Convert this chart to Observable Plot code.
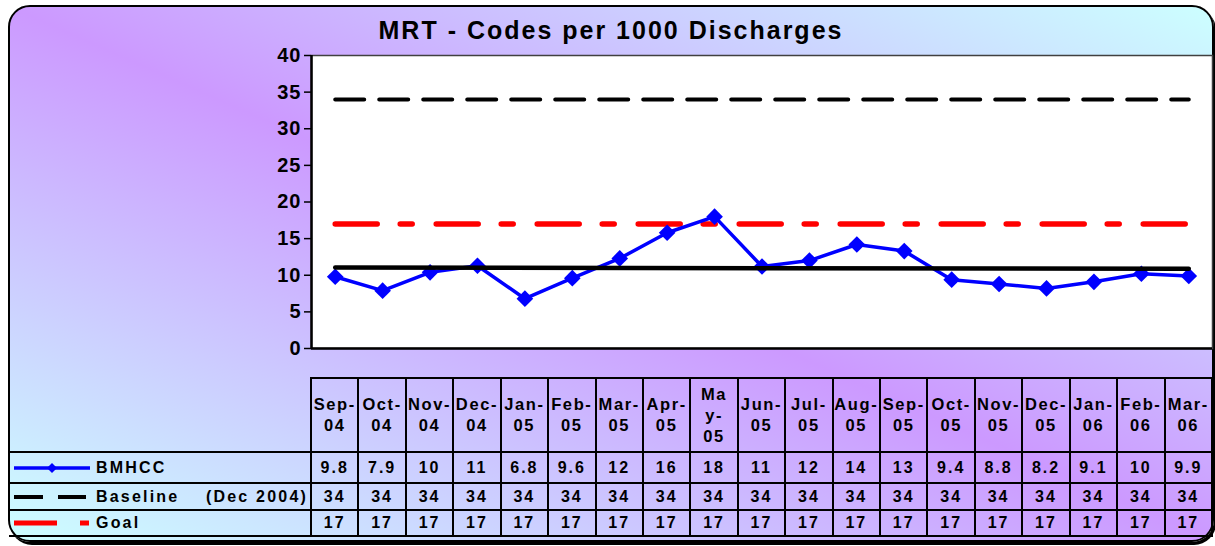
<!DOCTYPE html>
<html>
<head>
<meta charset="utf-8">
<script src="https://cdn.jsdelivr.net/npm/d3@7"></script>
<script src="https://cdn.jsdelivr.net/npm/@observablehq/plot@0.6"></script>
<style>
  body { margin:0; width:1215px; height:546px; overflow:hidden; background:#fff;
         font-family:"Liberation Sans", Arial, sans-serif; position:relative; }
  #card { position:absolute; left:8px; top:5px; width:1206px; height:537px; box-sizing:border-box;
          border:2.5px solid #000; border-radius:22px;
          background:linear-gradient(to top right, #ccffff 0%, #cc99ff 50%, #ccffff 100%);
          box-shadow:2px 3px 0 #000; }
  #title { position:absolute; top:16px; left:0; width:1222px; text-align:center;
           font-weight:bold; font-size:25px; letter-spacing:2px; color:#000; }
  #chart { position:absolute; left:0; top:0; }
  .cell { position:absolute; box-sizing:border-box; border:2px solid #000; display:flex;
          align-items:center; justify-content:center; font-weight:bold; font-size:16px;
          letter-spacing:2px; white-space:pre-line; text-align:center; color:#000; }
  .hdr { font-size:16.5px; line-height:21px; letter-spacing:1.6px; }
  .leg { position:absolute; box-sizing:border-box; border-top:2px solid #000; border-bottom:2px solid #000;
         display:flex; align-items:center; font-weight:bold; font-size:16px; letter-spacing:2.2px;
         white-space:pre; color:#000; }
  .leg svg { margin-left:5px; margin-right:4px; flex:none; }
</style>
</head>
<body>
<div id="card"></div>
<div id="title"></div>
<div id="chart"></div>
<div id="table"></div>
<script>
// ---- data ----
const titleText = "MRT - Codes per 1000 Discharges";
const months = ["Sep-04","Oct-04","Nov-04","Dec-04","Jan-05","Feb-05","Mar-05","Apr-05","May-05","Jun-05",
                "Jul-05","Aug-05","Sep-05","Oct-05","Nov-05","Dec-05","Jan-06","Feb-06","Mar-06"];
const headerLabels = ["Sep-\n04","Oct-\n04","Nov-\n04","Dec-\n04","Jan-\n05","Feb-\n05","Mar-\n05","Apr-\n05",
                      "Ma\ny-\n05","Jun-\n05","Jul-\n05","Aug-\n05","Sep-\n05","Oct-\n05","Nov-\n05","Dec-\n05",
                      "Jan-\n06","Feb-\n06","Mar-\n06"];
const bmhcc    = [9.8, 7.9, 10.4, 11.3, 6.8, 9.6, 12.3, 15.8, 18.0, 11.2, 12.0, 14.2, 13.3, 9.4, 8.8, 8.2, 9.1, 10.2, 9.9];
const baseline = [34, 34, 34, 34, 34, 34, 34, 34, 34, 34, 34, 34, 34, 34, 34, 34, 34, 34, 34];
const goal     = [17, 17, 17, 17, 17, 17, 17, 17, 17, 17, 17, 17, 17, 17, 17, 17, 17, 17, 17];
const yTicks   = [0, 5, 10, 15, 20, 25, 30, 35, 40];
const seriesNames = ["BMHCC", "Baseline    (Dec 2004)", "Goal"];

const rows = months.map((m, i) => ({i, month: m, bmhcc: bmhcc[i], baseline: baseline[i], goal: goal[i]}));

document.getElementById("title").textContent = titleText;

const chart = Plot.plot({
  width: 1215,
  height: 360,
  marginTop: 55,
  marginLeft: 311,
  marginRight: 3,
  marginBottom: 12,
  x: {domain: [-0.5, months.length - 0.5], axis: null},
  y: {domain: [0, 40]},
  style: {background: "transparent", fontFamily: "Liberation Sans, Arial, sans-serif",
          fontSize: "20px", fontWeight: "bold", color: "#000", overflow: "visible", letterSpacing: "1px"},
  marks: [
    Plot.frame({fill: "white", stroke: "#404040", strokeWidth: 1.5}),
    Plot.axisY({ticks: yTicks, tickSize: 7, tickPadding: 3, label: null, strokeWidth: 1.5, tickFormat: d => d}),
    Plot.lineY(rows, {x: "i", y: "baseline", stroke: "#000", strokeWidth: 4, strokeDasharray: "29,15"}),
    Plot.lineY(rows, {x: "i", y: "goal", stroke: "#ff0000", strokeWidth: 5.5, strokeDasharray: "42,23,12,24"}),
    Plot.lineY(rows, {x: "i", y: "bmhcc", stroke: "#0000ff", strokeWidth: 3.5}),
    Plot.dot(rows, {x: "i", y: "bmhcc", symbol: "diamond2", r: 7.5, fill: "#0000ff", stroke: "none"}),
    Plot.linearRegressionY(rows, {x: "i", y: "bmhcc", stroke: "#000", strokeWidth: 4.5, ci: 0}),
    Plot.ruleX([-0.5], {stroke: "#000", strokeWidth: 2.5}),
    Plot.ruleY([0], {stroke: "#000", strokeWidth: 2.5})
  ]
});
document.getElementById("chart").appendChild(chart);

// ---- data table aligned with the chart's x scale ----
const xs = chart.scale("x");
const table = document.getElementById("table");
const rowTops = [378, 452, 483, 510, 536];
const fmt = d3.format(".2");
const seriesVals = [bmhcc, baseline, goal];

function addCell(cls, left, top, w, h, text) {
  const d = document.createElement("div");
  d.className = cls;
  Object.assign(d.style, {left: left + "px", top: top + "px", width: w + "px", height: h + "px"});
  d.textContent = text;
  table.appendChild(d);
  return d;
}

months.forEach((m, i) => {
  const x0 = xs.apply(i - 0.5), x1 = xs.apply(i + 0.5);
  addCell("cell hdr", x0 - 1, rowTops[0] - 1, x1 - x0 + 2, rowTops[1] - rowTops[0] + 2, headerLabels[i]);
  seriesVals.forEach((vals, r) => {
    addCell("cell", x0 - 1, rowTops[r + 1] - 1, x1 - x0 + 2, rowTops[r + 2] - rowTops[r + 1] + 2, fmt(vals[i]));
  });
});

// legend column
const legLeft = 9, legRight = xs.apply(-0.5);
const swatches = [
  `<svg width="78" height="14"><line x1="0" y1="7" x2="76" y2="7" stroke="#0000ff" stroke-width="3.5"/><path d="M38,2 L43,7 L38,12 L33,7Z" fill="#0000ff"/></svg>`,
  `<svg width="78" height="14"><line x1="0" y1="7" x2="29" y2="7" stroke="#000" stroke-width="4"/><line x1="44" y1="7" x2="72" y2="7" stroke="#000" stroke-width="4"/></svg>`,
  `<svg width="78" height="14"><line x1="0" y1="7" x2="43" y2="7" stroke="#ff0000" stroke-width="5"/><line x1="66" y1="7" x2="75" y2="7" stroke="#ff0000" stroke-width="5"/></svg>`
];
seriesNames.forEach((name, r) => {
  const d = addCell("leg", legLeft, rowTops[r + 1] - 1, legRight - legLeft, rowTops[r + 2] - rowTops[r + 1] + 2, "");
  d.innerHTML = swatches[r];
  const s = document.createElement("span");
  s.textContent = name;
  d.appendChild(s);
});
</script>
</body>
</html>
